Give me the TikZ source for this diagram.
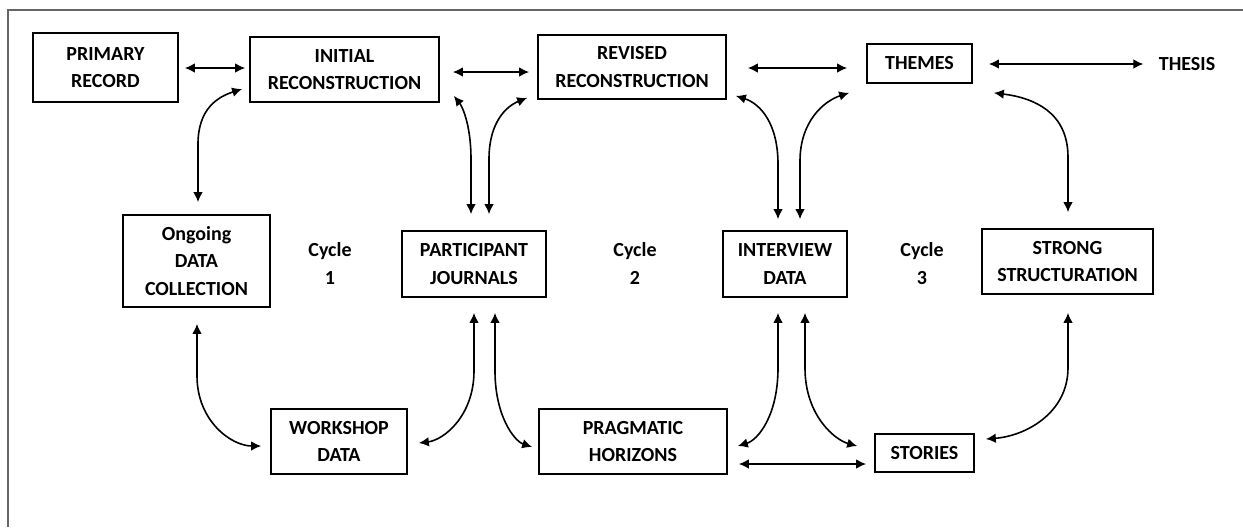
\documentclass[tikz,border=0pt]{standalone}
\usepackage{fontspec}
\setmainfont{Carlito}
\usetikzlibrary{arrows.meta}
\begin{document}
\begin{tikzpicture}[x=0.5pt,y=-0.5pt,
  txt/.style={font=\fontsize{10}{13.8}\selectfont\bfseries, align=center, inner sep=0pt},
  box/.style={txt, draw, line width=0.85pt},
  dbl/.style={line width=0.8pt, {Latex[length=5pt,width=4.8pt]}-{Latex[length=5pt,width=4.8pt]}},
  frameline/.style={draw=black!60, line width=1pt}]
\useasboundingbox (0,0) rectangle (1243,527);
% frame edges
\coordinate (fc) at (8,10);
\draw[frameline] (1243,10) -- (fc) -- (8,527);

% top row
\node[box, minimum width=72.5pt, minimum height=34.5pt] (pr) at (105.5,67.5) {PRIMARY\\RECORD};
\node[box, minimum width=94.5pt, minimum height=32.5pt] (ir) at (344.5,69.5) {INITIAL\\RECONSTRUCTION};
\node[box, minimum width=94pt, minimum height=32pt] (rr) at (632,67) {REVISED\\RECONSTRUCTION};
\node[box, minimum width=52.5pt, minimum height=19.5pt] (th) at (919.5,63.5) {THEMES};
\node[txt] (thesis) at (1187,64) {THESIS};

% middle row
\node[box, minimum width=73.5pt, minimum height=46pt] (og) at (196.5,261) {Ongoing\\DATA\\COLLECTION};
\node[txt] (c1) at (330,263.5) {Cycle\\1};
\node[box, minimum width=72pt, minimum height=33pt] (pj) at (474,264) {PARTICIPANT\\JOURNALS};
\node[txt] (c2) at (635,263.5) {Cycle\\2};
\node[box, minimum width=62pt, minimum height=33pt] (id) at (785,264) {INTERVIEW\\DATA};
\node[txt] (c3) at (922,263.5) {Cycle\\3};
\node[box, minimum width=85.5pt, minimum height=32.5pt] (ss) at (1067.5,261.5) {STRONG\\STRUCTURATION};

% bottom row
\node[box, minimum width=68pt, minimum height=32.5pt] (wd) at (339,441.5) {WORKSHOP\\DATA};
\node[box, minimum width=94pt, minimum height=32.5pt] (ph) at (633,441.5) {PRAGMATIC\\HORIZONS};
\node[box, minimum width=49.5pt, minimum height=19pt] (st) at (924.5,453) {STORIES};

% straight links
\draw[dbl] ([shift={(6,0.5)}]pr.east) -- ([shift={(-4,-1.5)}]ir.west);
\draw[dbl] ([shift={(13,2.5)}]ir.east) -- ([shift={(-8,5)}]rr.west);
\draw[dbl] ([shift={(21,1)}]rr.east) -- ([shift={(-19,4.5)}]th.west);
\draw[dbl] ([shift={(16,0.5)}]th.east) -- ([shift={(-15,0)}]thesis.west);
\draw[dbl] ([shift={(11,22.5)}]ph.east) -- ([shift={(-8,11)}]st.west);

% curved links, upper half
\draw[dbl] ([shift={(1.5,-12)}]og.north) -- ++(0,-58)
  .. controls +(0,-35) and +(-25,8) .. ([shift={(-7,19.5)}]ir.west);
\draw[dbl] ([shift={(-3,-16)}]pj.north) -- ++(0,-55)
  .. controls +(0,-35) and +(8,10) .. ([shift={(14,-7)}]ir.south east);
\draw[dbl] ([shift={(15,-16)}]pj.north) -- ++(0,-55)
  .. controls +(0,-38) and +(-20,8) .. ([shift={(-10,-2)}]rr.south west);
\draw[dbl] ([shift={(-7,-11)}]id.north) -- ++(0,-55)
  .. controls +(0,-40) and +(25,8) .. ([shift={(9,-4)}]rr.south east);
\draw[dbl] ([shift={(15,-11)}]id.north) -- ++(0,-58)
  .. controls +(0,-40) and +(-25,8) .. ([shift={(-17,9)}]th.south west);
\draw[dbl] ([shift={(0.5,-16)}]ss.north) -- ++(0,-55)
  .. controls +(0,-45) and +(40,5) .. ([shift={(21,9)}]th.south east);

% curved links, lower half
\draw[dbl] ([shift={(0.5,16)}]og.south) -- ++(0,52)
  .. controls +(0,45) and +(-30,0) .. ([shift={(-9,4.5)}]wd.west);
\draw[dbl] ([shift={(0,15)}]pj.south) -- ++(0,58)
  .. controls +(0,45) and +(25,-3) .. ([shift={(11,1.5)}]wd.east);
\draw[dbl] ([shift={(21,15)}]pj.south) -- ++(0,58)
  .. controls +(0,45) and +(-18,-6) .. ([shift={(-6,5.5)}]ph.west);
\draw[dbl] ([shift={(-7,15)}]id.south) -- ++(0,55)
  .. controls +(0,48) and +(20,-6) .. ([shift={(10,4.5)}]ph.east);
\draw[dbl] ([shift={(20,15)}]id.south) -- ++(0,55)
  .. controls +(0,48) and +(-22,-6) .. ([shift={(-17,-7)}]st.west);
\draw[dbl] ([shift={(0.5,18)}]ss.south) -- ++(0,55)
  .. controls +(0,45) and +(40,-3) .. ([shift={(11,-14)}]st.east);
\end{tikzpicture}
\end{document}
